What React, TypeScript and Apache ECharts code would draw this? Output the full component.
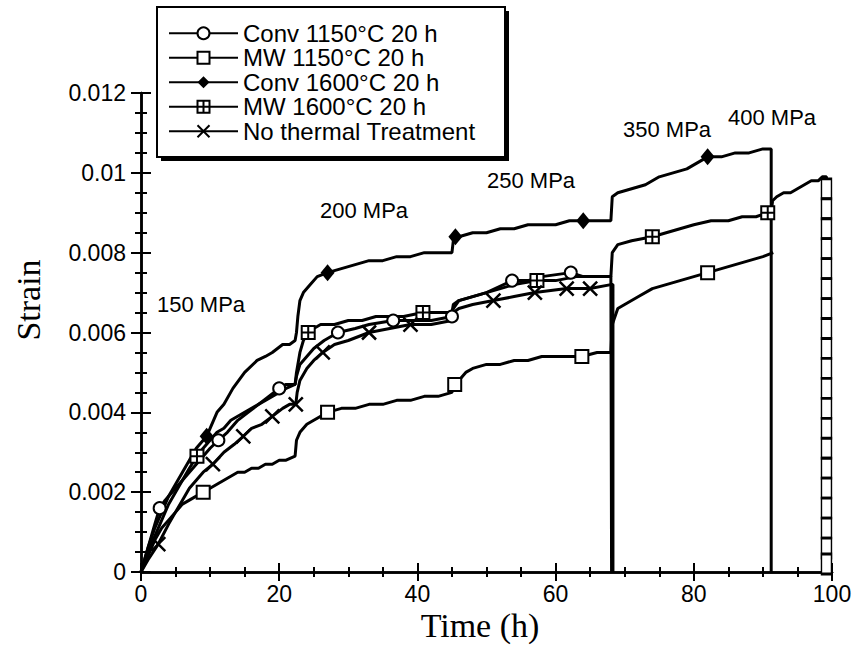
import React, { useEffect, useRef } from 'react';
import * as echarts from 'echarts';

const seriesNames = [
  'Conv 1150°C 20 h',
  'MW 1150°C 20 h',
  'Conv 1600°C 20 h',
  'MW 1600°C 20 h',
  'No thermal Treatment',
];

const xTicks = [0, 20, 40, 60, 80, 100];
const yTicks = [0, 0.002, 0.004, 0.006, 0.008, 0.01, 0.012];
const stressLabels = ['150 MPa', '200 MPa', '250 MPa', '350 MPa', '400 MPa'];

// Conv 1150 (open circles)
const conv1150 = [
  [0, 0], [1, 0.0006], [2, 0.0012], [2.7, 0.0016], [3.5, 0.0018], [5, 0.0021], [6, 0.0023], [7, 0.0025],
  [8, 0.0027], [9, 0.0029], [10, 0.0031], [11.2, 0.0033], [12.5, 0.0035], [14, 0.0038], [15.5, 0.004],
  [17, 0.0042], [18.5, 0.0044], [20, 0.0046], [21, 0.0047], [22.3, 0.0047],
  [22.5, 0.0049], [23, 0.0052], [24, 0.0054], [25, 0.0056], [26.5, 0.0058], [28.5, 0.006], [31, 0.0061],
  [33, 0.0062], [36.5, 0.0063], [39, 0.0063], [42, 0.0063], [45, 0.0064],
  [45.2, 0.0066], [46, 0.0068], [48, 0.0069], [50, 0.007], [53.7, 0.0073], [56, 0.0073], [58, 0.0074],
  [62.2, 0.0075], [64, 0.0074], [66, 0.0074], [68, 0.0074], [68.1, 0],
];
const conv1150Marks = [
  [2.7, 0.0016], [11.2, 0.0033], [20, 0.0046], [28.5, 0.006], [36.5, 0.0063], [45, 0.0064], [53.7, 0.0073], [62.2, 0.0075],
];

// MW 1150 (open squares)
const mw1150 = [
  [0, 0], [1, 0.0004], [2, 0.0008], [3, 0.0011], [4, 0.0013], [5, 0.0015], [6, 0.0017], [7, 0.0018],
  [8, 0.0019], [9, 0.002], [10, 0.0021], [11, 0.0022], [12, 0.0023], [13, 0.0024], [14, 0.0025], [15, 0.0025],
  [16, 0.0026], [17, 0.0026], [18, 0.0027], [19, 0.0027], [20, 0.0028], [21, 0.0028], [22.3, 0.0029],
  [22.5, 0.0033], [23, 0.0035], [24, 0.0037], [25, 0.0038], [27, 0.004], [29, 0.0041], [31, 0.0041],
  [33, 0.0042], [35, 0.0042], [37, 0.0043], [39, 0.0043], [41, 0.0044], [43, 0.0044], [45, 0.0045],
  [45.2, 0.0046], [46, 0.0048], [47, 0.005], [48, 0.0051], [50, 0.0052], [52, 0.0052], [54, 0.0053],
  [56, 0.0053], [58, 0.0054], [60, 0.0054], [63.8, 0.0054], [66, 0.0055], [68, 0.0055],
  [68.2, 0.0062], [69, 0.0066], [70, 0.0067], [72, 0.0069], [74, 0.0071], [76, 0.0072], [78, 0.0073],
  [80, 0.0074], [82, 0.0075], [84, 0.0076], [86, 0.0077], [88, 0.0078], [90, 0.0079], [91.5, 0.008],
];
const mw1150Marks = [[9, 0.002], [27, 0.004], [45.4, 0.0047], [63.8, 0.0054], [82, 0.0075]];

// Conv 1600 (filled diamonds)
const conv1600 = [
  [0, 0], [0.5, 0.0003], [1, 0.0006], [2, 0.0011], [3, 0.0015], [4, 0.0019], [5, 0.0022], [6, 0.0025],
  [7, 0.0028], [8, 0.0031], [9.5, 0.0034], [11, 0.004], [12, 0.0042], [13.3, 0.0046], [15, 0.005],
  [16.8, 0.0053], [18, 0.0054], [19, 0.0055], [20.5, 0.0057], [21.5, 0.0057], [22.3, 0.0058],
  [22.5, 0.006], [22.7, 0.0064], [23, 0.0068], [23.5, 0.007], [24.5, 0.0072], [25.5, 0.0074], [27, 0.0075],
  [29, 0.0076], [31, 0.0077], [33, 0.0078], [35, 0.0078], [37, 0.0079], [39, 0.0079], [41, 0.008],
  [43, 0.008], [45, 0.008],
  [45.2, 0.0083], [46, 0.0084], [48, 0.0085], [50, 0.0085], [52, 0.0086], [54, 0.0086], [56, 0.0087],
  [58, 0.0087], [60, 0.0087], [62, 0.0088], [64, 0.0088], [66, 0.0088], [68, 0.0088],
  [68.2, 0.0094], [69, 0.0095], [71, 0.0096], [73, 0.0097], [75, 0.0099], [77, 0.01], [79, 0.0101],
  [80, 0.0102], [82, 0.0104], [84, 0.0104], [86, 0.0105], [88, 0.0105], [90, 0.0106], [91.2, 0.0106],
  [91.2, 0],
];
const conv1600Marks = [[9.5, 0.0034], [27, 0.0075], [45.5, 0.0084], [64, 0.0088], [82, 0.0104]];

// MW 1600 (boxed plus)
const mw1600 = [
  [0, 0], [1, 0.0005], [2, 0.0009], [3, 0.0013], [4, 0.0017], [5, 0.002], [6, 0.0023], [7, 0.0026],
  [8.1, 0.0029], [9, 0.0031], [10, 0.0033], [11, 0.0035], [12, 0.0036], [13, 0.0038], [14, 0.0039],
  [15, 0.004], [16, 0.0041], [17, 0.0042], [18, 0.0043], [19, 0.0044], [20, 0.0045], [21, 0.0046],
  [22.3, 0.0047],
  [22.5, 0.005], [23, 0.0055], [23.5, 0.0058], [24.2, 0.006], [25, 0.0061], [26, 0.0062], [28, 0.0062],
  [30, 0.0063], [32, 0.0063], [34, 0.0064], [36, 0.0064], [38, 0.0064], [40.8, 0.0065], [43, 0.0065],
  [45, 0.0065],
  [45.2, 0.0067], [46, 0.0068], [48, 0.0069], [50, 0.007], [52, 0.0071], [54, 0.0072], [57.3, 0.0073],
  [60, 0.0073], [63, 0.0074], [66, 0.0074], [68, 0.0074],
  [68.2, 0.008], [69, 0.0082], [71, 0.0083], [74, 0.0084], [76, 0.0085], [78, 0.0086], [80, 0.0087],
  [82.5, 0.0088], [85, 0.0088], [87, 0.0089], [89, 0.0089], [90.7, 0.009], [91.2, 0.009],
  [91.4, 0.0093], [92, 0.0094], [93, 0.0095], [94, 0.0095], [95, 0.0096], [96, 0.0097], [97, 0.0098],
  [98, 0.0098], [98.6, 0.0099], [99.2, 0.0099], [99.2, 0],
];
const mw1600Marks = [
  [8.1, 0.0029], [24.2, 0.006], [40.8, 0.0065], [57.3, 0.0073], [74, 0.0084], [90.7, 0.009],
];
const mw1600FailMarks = [
  [99.2, 0.0096], [99.2, 0.0091], [99.2, 0.0086], [99.2, 0.0081], [99.2, 0.0076], [99.2, 0.0071],
  [99.2, 0.0066], [99.2, 0.0061], [99.2, 0.0056], [99.2, 0.0051], [99.2, 0.0046], [99.2, 0.0041],
  [99.2, 0.0036], [99.2, 0.0031], [99.2, 0.0026], [99.2, 0.0021], [99.2, 0.0016], [99.2, 0.0011],
  [99.2, 0.0006], [99.2, 0.0002],
];

// No thermal treatment (crosses)
const noTreat = [
  [0, 0], [1, 0.0003], [2.5, 0.0007], [4, 0.0012], [5, 0.0015], [6, 0.0018], [7, 0.0021], [8, 0.0023],
  [9, 0.0025], [10.4, 0.0027], [12, 0.003], [13.5, 0.0032], [14.8, 0.0034], [16, 0.0036], [17.5, 0.0037],
  [19, 0.0039], [20.5, 0.0041], [21.5, 0.0042], [22.4, 0.0042],
  [22.6, 0.0045], [23, 0.0048], [24, 0.0051], [25, 0.0053], [26.3, 0.0055], [28, 0.0057], [30, 0.0058],
  [33, 0.006], [36, 0.0061], [39, 0.0062], [42, 0.0062], [45, 0.0063],
  [45.2, 0.0065], [46, 0.0066], [48, 0.0067], [51, 0.0068], [54, 0.0069], [57, 0.007], [61.6, 0.0071],
  [65, 0.0071], [68, 0.0072], [68.3, 0.0072], [68.3, 0],
];
const noTreatMarks = [
  [2.5, 0.0007], [10.4, 0.0027], [14.8, 0.0034], [19, 0.0039], [22.4, 0.0042], [26.3, 0.0055],
  [33, 0.006], [39, 0.0062], [51, 0.0068], [57, 0.007], [61.6, 0.0071], [65, 0.0071],
];

const BOXPLUS = 'path://M0,0H12V12H0ZM6,0V12M0,6H12';
const CROSS = 'path://M0,0L12,12M12,0L0,12';

const SANS = '"Liberation Sans", Arial, Helvetica, sans-serif';
const SERIF = '"Liberation Serif", "Times New Roman", serif';

export default function App() {
  const ref = useRef<HTMLDivElement>(null);

  useEffect(() => {
    if (!ref.current) return;
    const chart = echarts.init(ref.current, undefined, { renderer: 'svg' });

    const lineBase = (name: string, data: number[][], symbol: string, itemStyle: any) => ({
      type: 'line',
      name,
      data,
      symbol,
      showSymbol: false,
      lineStyle: { color: '#000', width: 3 },
      itemStyle,
      emphasis: { disabled: true },
      silent: true,
      z: 3,
    });
    const markBase = (name: string, data: number[][], symbol: string, size: any, itemStyle: any) => ({
      type: 'scatter',
      name,
      data,
      symbol,
      symbolSize: size,
      itemStyle: { opacity: 1, ...itemStyle },
      emphasis: { disabled: true },
      silent: true,
      z: 4,
    });

    const axisCommon = {
      type: 'value',
      axisLine: { show: true, lineStyle: { color: '#000', width: 2.5 } },
      splitLine: { show: false },
    };

    const option: any = {
      animation: false,
      backgroundColor: '#fff',
      grid: { left: 141, top: 93, right: 23, bottom: 78, outerBoundsMode: 'none' },
      xAxis: [
        {
          ...axisCommon,
          position: 'bottom',
          min: xTicks[0],
          max: xTicks[xTicks.length - 1],
          interval: xTicks[1] - xTicks[0],
          axisTick: { inside: true, length: 9, lineStyle: { color: '#000', width: 2 } },
          minorTick: { show: true, splitNumber: 4, length: 5, lineStyle: { color: '#000', width: 2 } },
          axisLabel: { color: '#000', fontSize: 23, fontFamily: SANS, margin: 10 },
        },
        {
          ...axisCommon,
          position: 'top',
          min: xTicks[0],
          max: xTicks[xTicks.length - 1],
          interval: xTicks[1] - xTicks[0],
          axisTick: { inside: true, length: 9, lineStyle: { color: '#000', width: 2 } },
          minorTick: { show: true, splitNumber: 4, length: 5, lineStyle: { color: '#000', width: 2 } },
          axisLabel: { show: false },
        },
      ],
      yAxis: [
        {
          ...axisCommon,
          position: 'left',
          min: yTicks[0],
          max: yTicks[yTicks.length - 1],
          interval: yTicks[1] - yTicks[0],
          axisTick: { inside: true, length: 10, lineStyle: { color: '#000', width: 2 } },
          minorTick: { show: true, splitNumber: 4, length: 6, lineStyle: { color: '#000', width: 2 } },
          axisLabel: {
            color: '#000',
            fontSize: 23,
            fontFamily: SANS,
            margin: 15,
            formatter: (v: number) => String(Number(v.toFixed(4))),
          },
        },
        {
          ...axisCommon,
          position: 'right',
          min: yTicks[0],
          max: yTicks[yTicks.length - 1],
          interval: yTicks[1] - yTicks[0],
          axisTick: { inside: true, length: 10, lineStyle: { color: '#000', width: 2 } },
          minorTick: { show: true, splitNumber: 4, length: 6, lineStyle: { color: '#000', width: 2 } },
          axisLabel: { show: false },
        },
      ],
      legend: {
        data: seriesNames,
        orient: 'vertical',
        left: 168,
        top: 21,
        padding: 0,
        itemWidth: 69,
        itemHeight: 15,
        itemGap: 0,
        selectedMode: false,
        z: 100,
        textStyle: { color: '#000', fontSize: 24, fontFamily: SANS, lineHeight: 24.5 },
      },
      graphic: {
        elements: [
          { type: 'rect', z: 50, shape: { x: 161, y: 11, width: 348, height: 150 }, style: { fill: '#000' } },
          {
            type: 'rect', z: 51, shape: { x: 157, y: 7, width: 348, height: 150 },
            style: { fill: '#fff', stroke: '#000', lineWidth: 2 },
          },
          { type: 'text', z: 60, x: 157, y: 304, style: { text: stressLabels[0], font: `22px ${SANS}`, fill: '#000', textVerticalAlign: 'middle' } },
          { type: 'text', z: 60, x: 320, y: 210, style: { text: stressLabels[1], font: `22px ${SANS}`, fill: '#000', textVerticalAlign: 'middle' } },
          { type: 'text', z: 60, x: 487, y: 180, style: { text: stressLabels[2], font: `22px ${SANS}`, fill: '#000', textVerticalAlign: 'middle' } },
          { type: 'text', z: 60, x: 623, y: 129, style: { text: stressLabels[3], font: `22px ${SANS}`, fill: '#000', textVerticalAlign: 'middle' } },
          { type: 'text', z: 60, x: 728, y: 117, style: { text: stressLabels[4], font: `22px ${SANS}`, fill: '#000', textVerticalAlign: 'middle' } },
          { type: 'text', z: 60, x: 480, y: 625, style: { text: 'Time (h)', font: `34px ${SERIF}`, fill: '#000', textAlign: 'center', textVerticalAlign: 'middle' } },
          { type: 'text', z: 60, x: 28, y: 300, rotation: Math.PI / 2, style: { text: 'Strain', font: `34px ${SERIF}`, fill: '#000', textAlign: 'center', textVerticalAlign: 'middle' } },
        ],
      },
      series: [
        lineBase(seriesNames[0], conv1150, 'emptyCircle', { color: '#000' }),
        lineBase(seriesNames[1], mw1150, 'emptyRect', { color: '#000' }),
        lineBase(seriesNames[2], conv1600, 'diamond', { color: '#000' }),
        lineBase(seriesNames[3], mw1600, BOXPLUS, { color: '#fff', borderColor: '#000', borderWidth: 1.5 }),
        lineBase(seriesNames[4], noTreat, CROSS, { color: '#000', borderColor: '#000', borderWidth: 2.5 }),
        markBase(seriesNames[0], conv1150Marks, 'emptyCircle', 12, { color: '#000', borderColor: '#000', borderWidth: 2 }),
        markBase(seriesNames[1], mw1150Marks, 'emptyRect', 13, { color: '#000', borderColor: '#000', borderWidth: 2 }),
        markBase(seriesNames[2], conv1600Marks, 'diamond', [14, 17], { color: '#000' }),
        markBase(seriesNames[3], mw1600Marks, BOXPLUS, 13, { color: '#fff', borderColor: '#000', borderWidth: 2 }),
        markBase(seriesNames[3], mw1600FailMarks, 'rect', [10, 20], { color: '#fff', borderColor: '#000', borderWidth: 2 }),
        markBase(seriesNames[4], noTreatMarks, CROSS, 14, { color: '#000', borderColor: '#000', borderWidth: 2.5 }),
      ],
    };

    chart.setOption(option);
    return () => chart.dispose();
  }, []);

  return (
    <div
      ref={ref}
      style={{ position: 'absolute', left: 0, top: 0, width: 855, height: 650, background: '#fff' }}
    />
  );
}
